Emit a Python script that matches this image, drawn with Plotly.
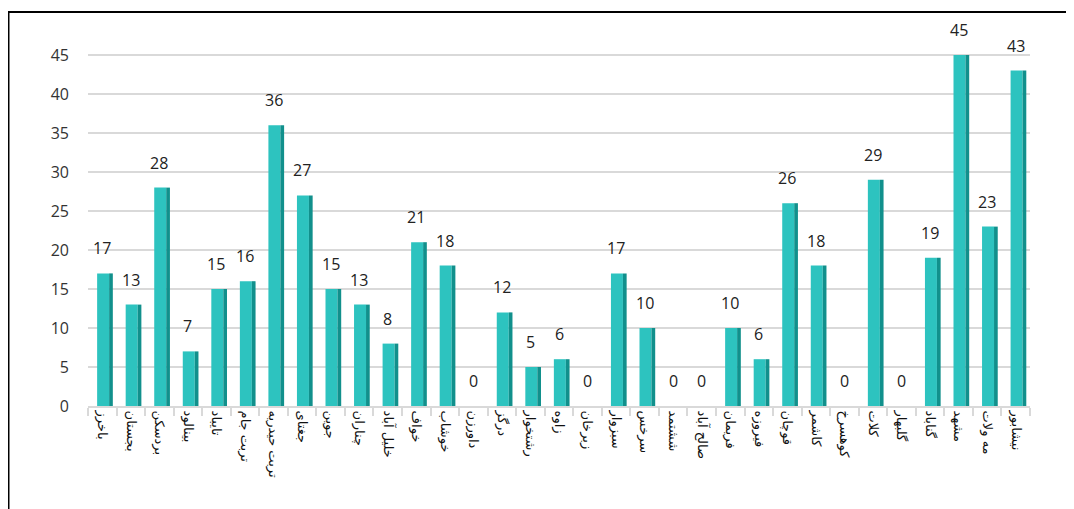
import plotly.graph_objects as go

categories = ["باخرز", "بجستان", "بردسکن", "بینالود", "تایباد", "تربت جام", "تربت حیدریه",
              "جغتای", "جوین", "چناران", "خلیل آباد", "خواف", "خوشاب", "داورزن", "درگز",
              "رشتخوار", "زاوه", "زبرخان", "سبزوار", "سرخس", "ششتمد", "صالح آباد", "فریمان",
              "فیروزه", "قوچان", "کاشمر", "کوهسرخ", "کلات", "گلبهار", "گناباد", "مشهد",
              "مه ولات", "نیشابور"]
values = [17, 13, 28, 7, 15, 16, 36, 27, 15, 13, 8, 21, 18, 0, 12, 5, 6, 0, 17, 10, 0, 0,
          10, 6, 26, 18, 0, 29, 0, 19, 45, 23, 43]
y_ticks = [0, 5, 10, 15, 20, 25, 30, 35, 40, 45]

fig = go.Figure()
fig.add_trace(go.Bar(
    x=categories, y=values, width=0.42, offset=-0.18,
    marker=dict(color="#2DC3BF", line=dict(width=0)),
    hoverinfo="skip", showlegend=False,
))
fig.add_trace(go.Bar(
    x=categories, y=values, width=0.13, offset=0.24,
    marker=dict(color="#11908C", line=dict(width=0)),
    hoverinfo="skip", showlegend=False,
))

annotations = [
    dict(x=c, y=v, xref="x", yref="y", text=str(v), showarrow=False,
         yanchor="bottom", yshift=12, xshift=0,
         font=dict(family="Open Sans, DejaVu Sans", size=16, color="#222222"))
    for c, v in zip(categories, values)
]

fig.update_layout(
    width=1074, height=509,
    barmode="overlay",
    plot_bgcolor="white", paper_bgcolor="white",
    margin=dict(l=80, r=52, t=8, b=111),
    annotations=annotations,
    xaxis=dict(tickangle=90, tickfont=dict(family="DejaVu Sans", size=13, color="#111111"),
               showgrid=False, showline=True, linecolor="#D9D9D9", linewidth=2,
               ticks="outside", tickson="boundaries", tickcolor="#D9D9D9", ticklen=8,
               tickwidth=2, automargin=False, fixedrange=True),
    yaxis=dict(range=[0, 50], tickvals=y_ticks, showgrid=True, gridcolor="#D9D9D9",
               gridwidth=2, zeroline=False, automargin=False,
               tickfont=dict(family="Open Sans, DejaVu Sans", size=16, color="#333333"),
               ticklabelstandoff=18),
    shapes=[dict(type="rect", xref="paper", yref="paper", x0=-0.0844, x1=1.2,
                 y0=-0.6, y1=1.0103, line=dict(color="black", width=2),
                 fillcolor="rgba(0,0,0,0)", layer="above")],
)

fig.write_html("out.html")
